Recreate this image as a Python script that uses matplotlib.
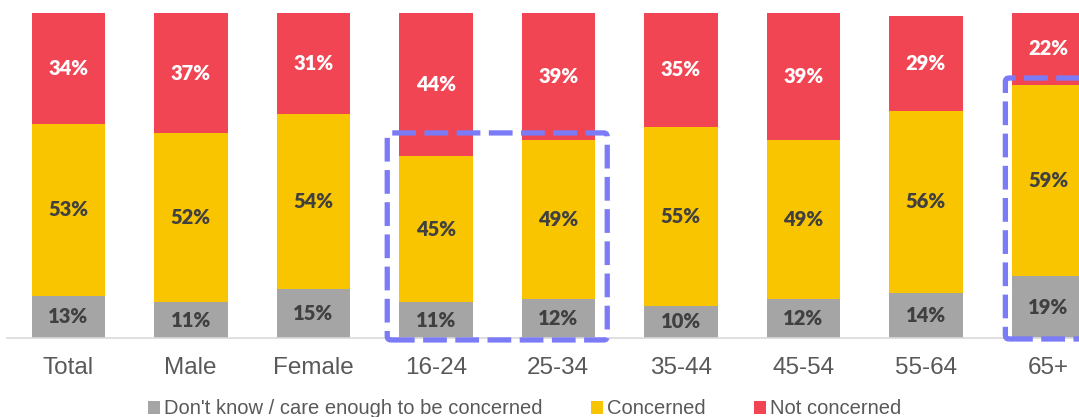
import matplotlib.pyplot as plt
from matplotlib.patches import FancyBboxPatch, Patch

# Частки відповідей (у відсотках) за групами
groups = ['Total', 'Male', 'Female', '16-24', '25-34', '35-44', '45-54', '55-64', '65+']
dont_know = [13, 11, 15, 11, 12, 10, 12, 14, 19]
concerned = [53, 52, 54, 45, 49, 55, 49, 56, 59]
not_concerned = [34, 37, 31, 44, 39, 35, 39, 29, 22]

series_names = ["Don't know / care enough to be concerned", 'Concerned', 'Not concerned']
colors = ['#A5A5A5', '#F8C500', '#F24553']
label_colors = ['#404040', '#404040', '#FFFFFF']

fig = plt.figure(figsize=(10.79, 4.17), dpi=100)
ax = fig.add_axes([7 / 1079, 79 / 417, 1072 / 1079, 338 / 417])

x = list(range(len(groups)))
bottom = [0] * len(groups)
for values, color, lab_color in zip([dont_know, concerned, not_concerned], colors, label_colors):
    heights = [v / 100 for v in values]
    ax.bar(x, heights, width=0.6, bottom=bottom, color=color, edgecolor='none', zorder=2)
    for xi, b, h, v in zip(x, bottom, heights, values):
        ax.text(xi, b + h / 2, f'{v}%', ha='center', va='center', color=lab_color,
                fontsize=14.5, fontweight='heavy', family=['Lato', 'DejaVu Sans'], zorder=3)
    bottom = [b + h for b, h in zip(bottom, heights)]

ax.set_xlim(-0.5, -0.5 + 1072 / 122.5)
ax.set_ylim(0, 1.04)
ax.set_yticks([])
ax.set_xticks(x)
ax.set_xticklabels(groups, fontsize=17.5, color='#595959', family=['Liberation Sans', 'DejaVu Sans'])
ax.tick_params(axis='x', length=0, pad=14)
for side in ['top', 'right', 'left']:
    ax.spines[side].set_visible(False)
ax.spines['bottom'].set_color('#D9D9D9')
ax.spines['bottom'].set_linewidth(1.2)

# Пунктирні рамки, що виділяють групи 16-34 та 65+
box_style = dict(boxstyle='round,pad=0,rounding_size=0.03', fill=False, edgecolor='#7B7BF7',
                 linewidth=3.8, linestyle=(0, (4.5, 1.6)), zorder=4, clip_on=False)
ax.add_patch(FancyBboxPatch((2.604, -0.006), 1.796, 0.637, mutation_aspect=0.4, **box_style))
ax.add_patch(FancyBboxPatch((7.65, -0.003), 1.2, 0.803, mutation_aspect=0.4, **box_style))

handles = [Patch(facecolor=c, edgecolor='none') for c in colors]
fig.legend(handles, series_names, loc='center', bbox_to_anchor=(525 / 1079, 1 - 409 / 417),
           ncol=3, frameon=False, handlelength=0.6, handleheight=0.6, handletextpad=0.2,
           columnspacing=2.4,
           prop={'family': ['Liberation Sans Narrow', 'Liberation Sans'], 'size': 14.5},
           labelcolor='#595959')

fig.savefig('out.png', dpi=100)
